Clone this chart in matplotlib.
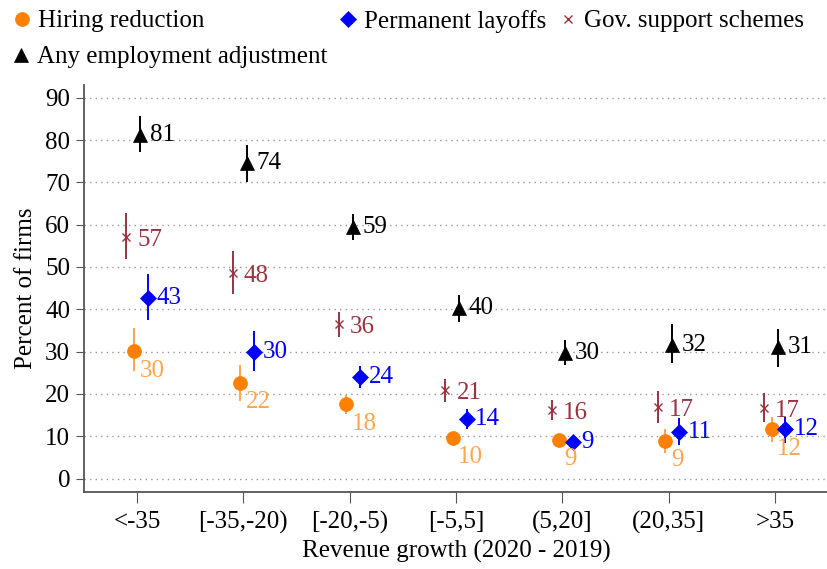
import matplotlib
matplotlib.use("Agg")
import matplotlib.pyplot as plt
from matplotlib.lines import Line2D
import numpy as np

# Data #
categories = ['<-35', '[-35,-20)', '[-20,-5)', '[-5,5]', '(5,20]', '(20,35]', '>35']

hiring     = [30.1, 22.6, 17.6,  9.7,  9.1,  8.9, 11.6]
hiring_lo  = [25.5, 18.4, 15.2,  8.4,  7.7,  6.1,  8.6]
hiring_hi  = [35.6, 26.9, 19.7, 10.7, 10.3, 11.7, 14.5]
hiring_lab = [30, 22, 18, 10, 9, 9, 12]

layoffs     = [42.6, 29.9, 24.0, 14.0,  8.7, 11.0, 11.6]
layoffs_lo  = [37.5, 25.5, 21.4, 11.7,  7.5,  7.9,  8.4]
layoffs_hi  = [48.3, 34.9, 26.6, 16.4,  9.5, 14.3, 14.5]
layoffs_lab = [43, 30, 24, 14, 9, 11, 12]

gov     = [57.1, 48.6, 36.5, 20.9, 16.2, 16.9, 16.7]
gov_lo  = [51.9, 43.6, 33.4, 18.1, 13.8, 13.1, 13.4]
gov_hi  = [62.7, 53.8, 39.3, 23.5, 18.5, 20.7, 20.3]
gov_lab = [57, 48, 36, 21, 16, 17, 17]

anyadj     = [81.2, 74.6, 59.4, 40.3, 29.6, 31.5, 31.1]
anyadj_lo  = [77.1, 70.0, 56.4, 37.0, 26.8, 27.3, 26.4]
anyadj_hi  = [85.6, 78.8, 62.5, 43.4, 32.7, 36.5, 35.3]
anyadj_lab = [81, 74, 59, 40, 30, 32, 31]

# Style #
plt.rcParams['font.family'] = ['Liberation Serif', 'DejaVu Serif']
fs = 18

orange, orange_light = '#FF7F00', '#FFA64D'
blue   = '#0000FF'
maroon = '#993340'
black  = '#000000'

W, H = 828, 569
fig = plt.figure(figsize=(W / 100, H / 100), dpi=100)
ax  = fig.add_axes([0.1014, 0.1359, 0.8986, 0.7147])

x = np.arange(1, len(categories) + 1)

series = [
    # values, lo, hi, labels, offset, marker, size, color, bar color, label dx, label dy
    (hiring,  hiring_lo,  hiring_hi,  hiring_lab,  -0.03, 'o', 10, orange, orange_light, 4, -14),
    (layoffs, layoffs_lo, layoffs_hi, layoffs_lab,  0.10, 'D',  8, blue,   blue,         6,   0),
    (gov,     gov_lo,     gov_hi,     gov_lab,     -0.10, 'x',  6, maroon, maroon,       8,  -2),
    (anyadj,  anyadj_lo,  anyadj_hi,  anyadj_lab,   0.03, '^', 10, black,  black,        7,   0),
]

for vals, lo, hi, labs, off, mk, ms, col, bcol, dx, dy in series:
    xs = x + off
    ax.vlines(xs, lo, hi, color=bcol, linewidth=1.4, zorder=2)
    ax.plot(xs, vals, linestyle='none', marker=mk, markersize=ms, color=col,
            markeredgewidth=1.0 if mk == 'x' else 0.5, zorder=3)
    tcol = orange_light if mk == 'o' else col
    for xi, v, lab in zip(xs, vals, labs):
        ax.annotate(str(lab), (xi, v), xytext=(dx, dy), textcoords='offset points',
                    ha='left', va='center', fontsize=fs, color=tcol, zorder=4)

# Axes #
ax.set_xlim(0.5, 7.5)
ax.set_ylim(-3.1, 93.0)
ax.set_yticks(np.arange(0, 91, 10))
ax.set_xticks(x)
ax.set_xticklabels(categories)
ax.tick_params(axis='both', labelsize=fs, direction='out', color='#555555')
ax.tick_params(axis='y', length=6, pad=4)
ax.tick_params(axis='x', length=8, pad=6)
ax.yaxis.grid(True, linestyle=(0, (1, 3)), color='#999999', linewidth=1.0)
ax.set_axisbelow(True)
for side in ('top', 'right'):
    ax.spines[side].set_visible(False)
for side in ('left', 'bottom'):
    ax.spines[side].set_color('#555555')
    ax.spines[side].set_linewidth(1.3)

ax.set_ylabel('Percent of firms', fontsize=fs, labelpad=6)
ax.set_xlabel('Revenue growth (2020 - 2019)', fontsize=fs, labelpad=4)

# Legend, placed by hand (pixel positions of the key markers) #
legend_items = [
    ('Hiring reduction',          'o', 10, orange, 22,  19),
    ('Permanent layoffs',         'D',  8, blue,   348, 19),
    ('Gov. support schemes',      'x',  6, maroon, 568, 19),
    ('Any employment adjustment', '^', 10, black,  21,  55),
]
for name, mk, ms, col, px, py in legend_items:
    fx, fy = px / W, 1 - py / H
    fig.add_artist(Line2D([fx], [fy], transform=fig.transFigure, linestyle='none', marker=mk,
                          markersize=ms, color=col, markeredgewidth=1.0 if mk == 'x' else 0.5))
    fig.text(fx + 16 / W, fy, name, fontsize=fs, ha='left', va='center_baseline')

fig.savefig('out.png', dpi=100)
